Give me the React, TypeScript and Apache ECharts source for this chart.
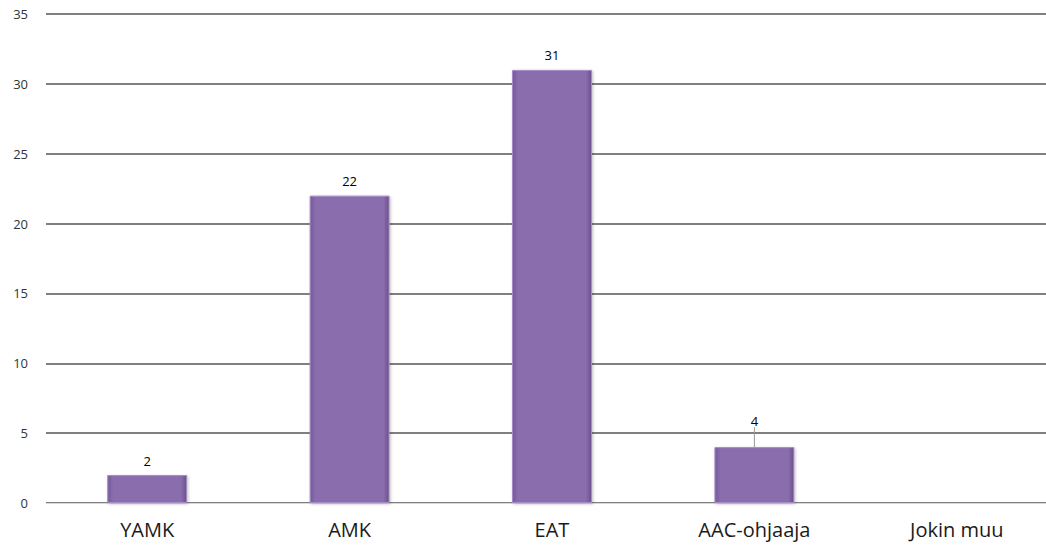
import React, { useEffect, useRef } from "react";
import * as echarts from "echarts";

const categories = ["YAMK", "AMK", "EAT", "AAC-ohjaaja", "Jokin muu"];
const counts = [2, 22, 31, 4, 0];
const yTicks = { min: 0, max: 35, interval: 5 };

export default function App() {
  const ref = useRef<HTMLDivElement>(null);

  useEffect(() => {
    if (!ref.current) return;
    const chart = echarts.init(ref.current, undefined, { renderer: "svg" });
    const barFill = new echarts.graphic.LinearGradient(0, 0, 1, 0, [
      { offset: 0, color: "#76599a" },
      { offset: 0.07, color: "#8a6dad" },
      { offset: 0.93, color: "#8a6dad" },
      { offset: 1, color: "#6b508b" },
    ]);
    chart.setOption({
      animation: false,
      grid: { left: 46, right: 0, top: 14, bottom: 43 },
      xAxis: {
        type: "category",
        data: categories,
        axisLine: { lineStyle: { color: "#d9d9d9", width: 1 } },
        axisTick: { show: false },
        axisLabel: {
          color: "#1a1a1a",
          fontSize: 20,
          fontFamily: "Open Sans",
          margin: 16,
        },
      },
      yAxis: {
        type: "value",
        min: yTicks.min,
        max: yTicks.max,
        interval: yTicks.interval,
        axisLine: { show: false },
        axisTick: { show: false },
        axisLabel: {
          color: "#333",
          fontSize: 13,
          fontFamily: "Open Sans",
          margin: 18,
        },
        splitLine: { lineStyle: { color: "#555", width: 1.6 } },
      },
      series: [
        {
          type: "bar",
          barWidth: "39.5%",
          data: counts.map((v, i) =>
            i === 3
              ? { value: v, labelLine: { show: true, lineStyle: { color: "#999", width: 1 } } }
              : v
          ),
          itemStyle: {
            color: barFill,
            borderColor: "#a58dc6",
            borderWidth: 1,
            shadowColor: "rgba(0,0,0,0.25)",
            shadowBlur: 3,
            shadowOffsetX: 1,
            shadowOffsetY: 1,
          },
          label: {
            show: true,
            position: "top",
            distance: 8,
            color: "#000",
            fontSize: 13,
            fontFamily: "Open Sans",
            formatter: (p: any) => (p.value > 0 ? String(p.value) : ""),
          },
          labelLayout: (params: any) =>
            params.dataIndex === 3 ? { dy: -12 } : {},
        },
      ],
    });
    return () => chart.dispose();
  }, []);

  return (
    <div
      style={{
        position: "fixed",
        left: 0,
        top: 0,
        width: 1046,
        height: 546,
        overflow: "hidden",
        background: "#fff",
      }}
    >
      <div ref={ref} style={{ width: 1058, height: 546 }} />
    </div>
  );
}
